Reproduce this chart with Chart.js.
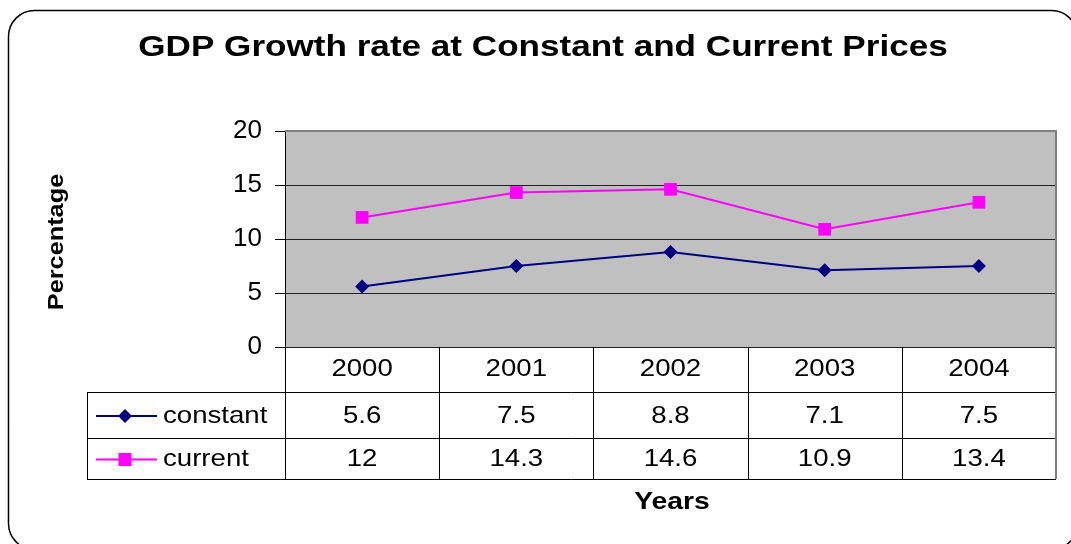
<!DOCTYPE html>
<html>
<head>
<meta charset="utf-8">
<title>GDP Growth rate</title>
<script src="https://cdn.jsdelivr.net/npm/chart.js@4.4.1/dist/chart.umd.min.js"></script>
<style>
	body { margin: 0; background: #fff; }
	canvas { display: block; }
</style>
</head>
<body>
<canvas id="gdp-chart" width="1071" height="544"></canvas>
<script>
const years = ['2000', '2001', '2002', '2003', '2004']
const constantValues = [5.6, 7.5, 8.8, 7.1, 7.5]
const currentValues = [12, 14.3, 14.6, 10.9, 13.4]
const yTicks = [0, 5, 10, 15, 20]

const chartTitle = 'GDP Growth rate at Constant and Current Prices'
const yTitle = 'Percentage'
const xTitle = 'Years'

const FONT = '"Liberation Sans", Arial, sans-serif'
const NAVY = '#000080'
const MAGENTA = '#ff00ff'

// draws text slightly stretched sideways like the original
function wideText(ctx, text, x, y, font, align, angle, stretch) {
	ctx.save()
	ctx.translate(x, y)
	if (angle) ctx.rotate(angle)
	ctx.scale(stretch || 1.15, 1)
	ctx.font = font
	ctx.textAlign = align || 'center'
	ctx.textBaseline = 'middle'
	ctx.fillStyle = '#000'
	ctx.fillText(text, 0, 0)
	ctx.restore()
}

function legendKey(ctx, x, y, color, style) {
	ctx.save()
	ctx.strokeStyle = color
	ctx.lineWidth = 2
	ctx.beginPath()
	ctx.moveTo(x - 29, y)
	ctx.lineTo(x + 32, y)
	ctx.stroke()
	ctx.fillStyle = color
	ctx.beginPath()
	if (style === 'rectRot') {
		ctx.moveTo(x, y - 7)
		ctx.lineTo(x + 7, y)
		ctx.lineTo(x, y + 7)
		ctx.lineTo(x - 7, y)
		ctx.closePath()
	} else {
		ctx.rect(x - 6.5, y - 6.5, 13, 13)
	}
	ctx.fill()
	ctx.restore()
}

const frame = {
	id: 'frame',
	beforeDraw(chart) {
		const { ctx, chartArea: a } = chart
		ctx.save()
		ctx.fillStyle = '#fff'
		ctx.fillRect(0, 0, chart.width, chart.height)
		ctx.fillStyle = '#c0c0c0'
		ctx.fillRect(a.left, a.top, a.right - a.left, a.bottom - a.top)
		ctx.restore()
	},
	afterDraw(chart) {
		const { ctx, chartArea: a } = chart
		const x = chart.scales.x
		ctx.save()

		// plot border top + right
		ctx.strokeStyle = '#808080'
		ctx.lineWidth = 2
		ctx.beginPath()
		ctx.moveTo(a.left, a.top)
		ctx.lineTo(a.right, a.top)
		ctx.lineTo(a.right, a.bottom)
		ctx.stroke()

		// data table
		const rowTop = a.bottom
		const rows = [a.bottom, a.bottom + 45, a.bottom + 91, a.bottom + 132]
		const tableLeft = 87
		const step = (a.right - a.left) / years.length

		ctx.strokeStyle = '#000'
		ctx.lineWidth = 1
		ctx.beginPath()
		for (let i = 1; i < rows.length; i++) {
			ctx.moveTo(tableLeft, rows[i] + 0.5)
			ctx.lineTo(a.right, rows[i] + 0.5)
		}
		ctx.moveTo(tableLeft + 0.5, rows[1])
		ctx.lineTo(tableLeft + 0.5, rows[3])
		years.forEach((y, i) => {
			const edge = Math.round(x.getPixelForValue(i) - step / 2) + 0.5
			ctx.moveTo(edge, rowTop)
			ctx.lineTo(edge, rows[3])
		})
		ctx.stroke()

		ctx.strokeStyle = '#808080'
		ctx.lineWidth = 2
		ctx.beginPath()
		ctx.moveTo(a.right, a.bottom)
		ctx.lineTo(a.right, rows[3])
		ctx.stroke()

		const cellFont = '24px ' + FONT
		years.forEach((y, i) => {
			const cx = x.getPixelForValue(i)
			wideText(ctx, y, cx, (rows[0] + rows[1]) / 2, cellFont)
			wideText(ctx, String(constantValues[i]), cx, (rows[1] + rows[2]) / 2 + 1, cellFont)
			wideText(ctx, String(currentValues[i]), cx, (rows[2] + rows[3]) / 2 + 1, cellFont)
		})

		legendKey(ctx, 125, (rows[1] + rows[2]) / 2 + 1, NAVY, 'rectRot')
		legendKey(ctx, 125, (rows[2] + rows[3]) / 2 + 1, MAGENTA, 'rect')
		wideText(ctx, 'constant', 163, (rows[1] + rows[2]) / 2 + 1, cellFont, 'left')
		wideText(ctx, 'current', 163, (rows[2] + rows[3]) / 2 + 1, cellFont, 'left')

		// titles
		wideText(ctx, chartTitle, 543, 48, 'bold 30px ' + FONT, 'center', 0, 1.17)
		wideText(ctx, yTitle, 57, 242, 'bold 22px ' + FONT, 'center', -Math.PI / 2, 1.15)
		wideText(ctx, xTitle, 672, 502, 'bold 24px ' + FONT, 'center', 0, 1.18)

		// rounded outer border
		ctx.strokeStyle = '#000'
		ctx.lineWidth = 1.5
		ctx.beginPath()
		ctx.roundRect(8.5, 10.5, 1069, 539, 26)
		ctx.stroke()
		ctx.restore()
	},
}

const ctxGdp = document.getElementById('gdp-chart').getContext('2d')
new Chart(ctxGdp, {
	type: 'line',
	data: {
		labels: years,
		datasets: [
			{
				label: 'constant',
				data: constantValues,
				borderColor: NAVY,
				backgroundColor: NAVY,
				borderWidth: 2,
				pointStyle: 'rectRot',
				pointRadius: 7,
				pointBorderWidth: 0,
				tension: 0,
			},
			{
				label: 'current',
				data: currentValues,
				borderColor: MAGENTA,
				backgroundColor: MAGENTA,
				borderWidth: 2,
				pointStyle: 'rect',
				pointRadius: 9,
				pointBorderWidth: 0,
				tension: 0,
			},
		],
	},
	options: {
		responsive: false,
		animation: false,
		layout: {
			padding: { left: 0, top: 131, right: 15, bottom: 197 },
		},
		plugins: {
			legend: { display: false },
			title: { display: false },
			tooltip: { enabled: false },
		},
		scales: {
			x: {
				type: 'category',
				display: false,
				offset: true,
			},
			y: {
				min: 0,
				max: 20,
				afterBuildTicks: scale => {
					scale.ticks = yTicks.map(v => ({ value: v }))
				},
				afterFit: scale => {
					scale.width = 285
				},
				ticks: {
					color: '#000',
					padding: 13,
					font: { family: FONT, size: 26 },
				},
				grid: {
					color: '#222',
					lineWidth: 1,
					tickLength: 10,
					tickColor: '#000',
				},
				border: { display: true, color: '#000', width: 1 },
			},
		},
	},
	plugins: [frame],
})
</script>
</body>
</html>
